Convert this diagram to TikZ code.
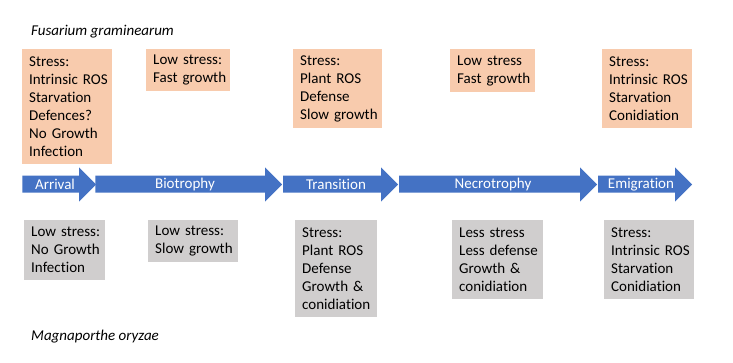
\documentclass[tikz,border=0pt]{standalone}
\usepackage{fontspec}
\setmainfont{Carlito}[Ligatures={NoCommon,NoContextual}]
\hyphenpenalty=10000
\exhyphenpenalty=10000
\lefthyphenmin=62
\righthyphenmin=62
\definecolor{boxorange}{HTML}{F8CBAD}
\definecolor{boxgray}{HTML}{D0CECE}
\definecolor{arrowblue}{HTML}{4472C4}
\newcommand\phasearrow[3]{%
  \fill[arrowblue] (#1,175.7) -- (#2,175.7) -- (#2,167.3) -- (#3,184.5) -- (#2,201.7) -- (#2,192.7) -- (#1,192.7) -- cycle;}
\begin{document}
\begin{tikzpicture}[x=1pt,y=-1pt,
  txt/.style={font=\fontsize{15}{18}\selectfont},
  infobox/.style={txt,anchor=north west,inner xsep=7pt,inner ysep=0pt,align=left},
  topbox/.style={infobox,fill=boxorange},
  botbox/.style={infobox,fill=boxgray},
  phaselabel/.style={txt,text=white,inner sep=0pt},
  species/.style={font=\fontsize{15}{18}\selectfont\itshape,anchor=west,inner sep=0pt}]
\useasboundingbox (0,0) rectangle (733,362);
\fill[white] (0,0) rectangle (733,362);

\node[species] (fus) at (31,32) {Fusarium graminearum};
\node[species] (mag) at (31,337) {Magnaporthe oryzae};

% top boxes
\node[topbox,text width=76pt,minimum height=115pt] (o1) at (22,49)
  {Stress:\\Intrinsic~ROS\\Starvation\\Defences?\\No~Growth\\Infection};
\node[topbox,text width=70pt,minimum height=42pt] (o2) at (146,49)
  {Low~stress:\\Fast~growth};
\node[topbox,text width=75pt,minimum height=79pt] (o3) at (293,49)
  {Stress:\\Plant~ROS\\Defense\\Slow~growth};
\node[topbox,text width=71pt,minimum height=43pt] (o4) at (450,49)
  {Low~stress\\Fast~growth};
\node[topbox,text width=76pt,minimum height=79pt] (o5) at (602,49)
  {Stress:\\Intrinsic~ROS\\Starvation\\Conidiation};

% arrows
\phasearrow{22.3}{79}{96}
\phasearrow{95.3}{265}{282}
\phasearrow{283}{381}{398}
\phasearrow{399}{580}{597}
\phasearrow{598}{675}{692}
\node[phaselabel] (arrival) at (55,184.5) {Arrival};
\node[phaselabel] (bio) at (185,184.5) {Biotrophy};
\node[phaselabel] (trans) at (336,184.5) {Transition};
\node[phaselabel] (necro) at (493,184.5) {Necrotrophy};
\node[phaselabel] (emi) at (641,184.5) {Emigration};

% bottom boxes
\node[botbox,text width=67pt,minimum height=60pt] (g1) at (24,220)
  {Low~stress:\\No~Growth\\Infection};
\node[botbox,text width=76pt,minimum height=42pt] (g2) at (148,220)
  {Low~stress:\\Slow~growth};
\node[botbox,text width=68pt,minimum height=97pt] (g3) at (295,220)
  {Stress:\\Plant~ROS\\Defense\\Growth~\&\\conidiation};
\node[botbox,text width=77pt,minimum height=79pt] (g4) at (452,220)
  {Less~stress\\Less~defense\\Growth~\&\\conidiation};
\node[botbox,text width=76pt,minimum height=79pt] (g5) at (604,220)
  {Stress:\\Intrinsic~ROS\\Starvation\\Conidiation};
\end{tikzpicture}
\end{document}
